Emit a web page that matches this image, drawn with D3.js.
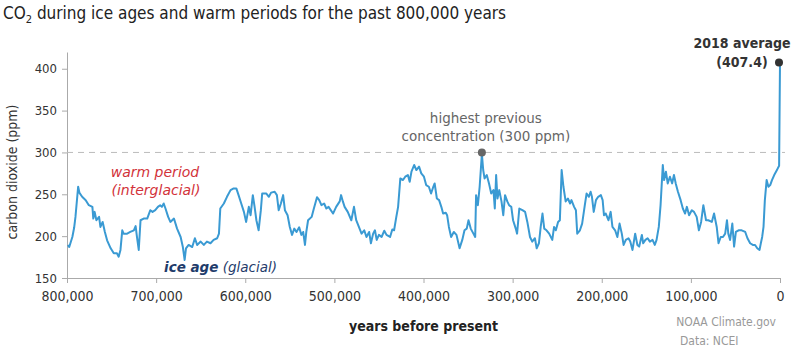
<!DOCTYPE html>
<html>
<head>
<meta charset="utf-8">
<script src="https://cdn.jsdelivr.net/npm/d3@7"></script>
<style>
  body { margin: 0; background: #fff; }
  svg text { font-family: "DejaVu Sans Condensed", "DejaVu Sans", sans-serif; }
</style>
</head>
<body>
<svg id="chart"></svg>
<script>
// thousand years before present, CO2 in ppm
const kyr = [799,797.5,794,792,790.5,787.5,786,783,779,775.5,771.5,770.5,769,767,764,762.5,760,757.5,755,751,747.5,744,742,740,738,736.5,732.5,729,725,723,721.5,719.5,717.5,714,710,706.5,704,701,698,695.5,693.5,691.5,689.5,686.5,684,680,676.5,672.5,670,668,666.5,663.5,659.5,656.5,654,650,646.5,643,639,635.5,631.5,629.5,628,624,620.5,616.5,613,610,607.5,604.5,601.5,599,596,594,591.5,589.5,587.5,585,582.5,581,576.5,573.5,571,567,564.5,562.5,560,557.5,555.5,552.5,550,547.5,545,542.5,539.5,537,535,533,531.5,529.5,525.5,523,519.5,517,514.5,511.5,509,506.5,501.5,498,494,492.5,490.5,488.5,485,481,478,475.5,472.5,469.5,466.5,464,461,459,456.5,454.5,452.5,450,447,444,441.5,437.5,435,433,430.5,428.5,426,423,420.5,417.5,415.5,413.5,410.5,408,405,402.5,399.5,397,394,391.5,389,387.5,385,382.5,380,378,375,373.5,371.5,369,366,363,359.5,356.5,354,351.5,349.5,347,344,342,341,339,337,334.5,333,331.5,329,326.5,324,321.5,320,318.5,317,315,312.5,310.5,308.5,306,304,301.5,299.5,296.5,295,292.5,289,286,283.5,280.5,278,275,273,270.5,268.5,266.5,264.5,262,259,255.5,253.5,251.5,249,247,245,243,240.5,238,235.5,234,231,229,227.5,224.5,222,219,217,214.5,212.5,211,209,206.5,204,201,199,197.5,195.5,192.5,190,188,185,182.5,180,177.5,175.5,173,170,168,165.5,162.5,160,158,155,153.5,151,148.5,146,143,140.5,138.5,136,134,131.5,130,128,126,123.5,121,119,117,114.5,111.5,109,106.5,104.5,102,99,96.5,93.5,91,88.5,86,83,80.5,76.5,74,71,69,66.5,64,61.5,59.5,58,56,53.5,51.5,49.5,46.5,43,39,36.5,33.5,30.5,28,25.5,23,21.5,20,18.5,17,15,13,11,9,6.5,4.5,2.5,1,0];
const co2 = [189.5,187,199,210,223,259,251.7,247,243,237,235,221,229,219,223,211,217,205,195,185.5,179.5,179.5,175.5,183.5,207,203,203,205,207,212,199,183.5,219,221,221,231,229,231,235,237,235,239,233,223,217,221,209,199,187,171.5,185.5,189.5,187,197.5,189.5,193.5,189.5,193.5,191.5,195.5,197.5,203,233,239,247,255,257,257,249,239,229,217,235,225,249,235,219,207,231,251,251,247,252,253,249,231,239,249,231,225,211,201.5,209,205,210.5,201.5,205,189.5,205,219,223,233,246.5,243,237,239,233,235,227,235,241.5,249,241.5,235,229,219,235,219,211,203,207,199,205,191.5,203,207,195.5,201.5,199,206.5,201.5,199,208,207,223,235,269,267,271,273,265,277,285,279,283,275,271,261,259,251,259,263,245,243,235,227,228,225,211,199,205,201.5,185.5,195.5,207,209,219,209,203,199,249,237,259,298,279,269,273,263,251,255,233,273,245,255,241.5,225,249,241.5,237,235,219,209,203,233,231,229,217,199,193.5,197.5,185.5,191.5,211,227,209,207,203,195.5,211,207,217,219,279,259,241.5,245,239,243,235,231,203,207,215,237,251,247,253,247,229,243,247,249,243,225,227,219,229,211,207,199,215,203,189.5,195.5,197.5,193.5,183.5,203,189.5,187.5,201.5,191.5,195.5,197.5,193.5,195.5,189.5,195.5,211,237,285,267,277,263,271,263,273,263,253,243,233,227,235,225,231,229,223,207,217,237,219,219,217,227,211,191.5,199,199,203,219,203,195.5,215,187.5,205,207,207,205,197.5,191.5,189.5,189.5,185.5,183.5,191.5,199,211,243,267,259,261,267,273,277,281,284,407.4];

const xTicks = [800, 700, 600, 500, 400, 300, 200, 100, 0];
const yTicks = [150, 200, 250, 300, 350, 400];
const previousHigh = { kyr: 334.5, ppm: 300 };
const latest = { kyr: 0, ppm: 407.4, label: '2018 average' };

class LineChart {
    constructor( config ) {
        this.config = {
            parent: config.parent,
            width: config.width || 800,
            height: config.height || 354,
            margin: config.margin || {top:52, right:20, bottom:76, left:67},
        }
        this.data = kyr.map( (k, i) => ({ kyr: k, ppm: co2[i] }) );
        this.init();
    }

    init() {
        let self = this;
        self.svg = d3.select( self.config.parent )
            .attr('width', self.config.width)
            .attr('height', self.config.height);
        self.chart = self.svg.append('g')
            .attr('transform', `translate(${self.config.margin.left}, ${self.config.margin.top})`);
        self.inner_width = self.config.width - self.config.margin.left - self.config.margin.right;
        self.inner_height = self.config.height - self.config.margin.top - self.config.margin.bottom;

        self.xscale = d3.scaleLinear()
            .domain( [800, 0] )
            .range( [0, self.inner_width] );
        self.yscale = d3.scaleLinear()
            .domain( [150, 420] )
            .range( [self.inner_height, 0] );

        self.xaxis = d3.axisBottom( self.xscale )
            .tickValues( xTicks )
            .tickFormat( d => d3.format(',')(d * 1000) )
            .tickSize(5)
            .tickSizeOuter(0)
            .tickPadding(8);
        self.yaxis = d3.axisLeft( self.yscale )
            .tickValues( yTicks )
            .tickSize(5)
            .tickSizeOuter(0)
            .tickPadding(5);
        self.xaxis_group = self.chart.append('g')
            .attr('transform', `translate(0, ${self.inner_height})`);
        self.yaxis_group = self.chart.append('g');

        // title with subscript 2
        const title = self.svg.append('text')
            .attr('x', 3)
            .attr('y', 19)
            .style('font-size', '17px')
            .attr('fill', '#222');
        title.append('tspan').text('CO');
        title.append('tspan').text('2').style('font-size', '11px').attr('dy', 4);
        title.append('tspan').text(' during ice ages and warm periods for the past 800,000 years').attr('dy', -4);

        self.svg.append('text')
            .style('font-size', '14px')
            .style('font-weight', 'bold')
            .attr('fill', '#222')
            .attr('x', self.config.margin.left + self.inner_width / 2)
            .attr('y', 331)
            .attr('text-anchor', 'middle')
            .text('years before present');

        self.svg.append('text')
            .style('font-size', '14px')
            .attr('fill', '#333')
            .attr('transform', `rotate(-90)`)
            .attr('y', 17)
            .attr('x', -172)
            .attr('text-anchor', 'middle')
            .text('carbon dioxide (ppm)');

        self.svg.append('text')
            .style('font-size', '12px')
            .attr('fill', '#999')
            .attr('x', 776)
            .attr('y', 326)
            .attr('text-anchor', 'end')
            .text('NOAA Climate.gov');
        self.svg.append('text')
            .style('font-size', '12px')
            .attr('fill', '#999')
            .attr('x', 680)
            .attr('y', 345)
            .text('Data: NCEI');
    }

    render() {
        let self = this;
        self.xaxis_group.call( self.xaxis );
        self.yaxis_group.call( self.yaxis );
        [self.xaxis_group, self.yaxis_group].forEach( g => {
            g.select('.domain').attr('stroke', '#aaa');
            g.selectAll('.tick line').attr('stroke', '#aaa');
            g.selectAll('.tick text')
                .attr('fill', '#333')
                .style('font-size', '14px')
                .style('font-family', '"DejaVu Sans Condensed", sans-serif');
        });
        self.yaxis_group.selectAll('.tick text').style('font-size', '13px');

        // dashed reference at the highest previous level
        self.chart.append('line')
            .attr('x1', 0)
            .attr('x2', self.inner_width + 5)
            .attr('y1', self.yscale(previousHigh.ppm))
            .attr('y2', self.yscale(previousHigh.ppm))
            .attr('stroke', '#bbb')
            .attr('stroke-width', 1)
            .attr('stroke-dasharray', '6,5');

        const line = d3.line()
            .x( d => self.xscale(d.kyr) )
            .y( d => self.yscale(d.ppm) );
        self.chart.append('path')
            .datum( self.data )
            .attr('d', line)
            .attr('fill', 'none')
            .attr('stroke', '#3a9ad3')
            .attr('stroke-width', 2)
            .attr('stroke-linejoin', 'round');

        self.chart.append('circle')
            .attr('cx', self.xscale(previousHigh.kyr))
            .attr('cy', self.yscale(previousHigh.ppm))
            .attr('r', 4)
            .attr('fill', '#666');
        self.chart.append('circle')
            .attr('cx', self.xscale(latest.kyr) - 1)
            .attr('cy', self.yscale(latest.ppm))
            .attr('r', 4)
            .attr('fill', '#333');

        // annotations
        const hx = self.xscale(previousHigh.kyr) + 4;
        self.chart.append('text')
            .attr('x', hx).attr('y', 71)
            .attr('text-anchor', 'middle')
            .attr('fill', '#666')
            .style('font-family', '"DejaVu Sans", sans-serif')
            .style('font-size', '13.5px')
            .text('highest previous');
        self.chart.append('text')
            .attr('x', hx).attr('y', 89)
            .attr('text-anchor', 'middle')
            .attr('fill', '#666')
            .style('font-family', '"DejaVu Sans", sans-serif')
            .style('font-size', '13.5px')
            .text('concentration (300 ppm)');

        self.chart.append('text')
            .attr('x', 675).attr('y', -4)
            .attr('text-anchor', 'middle')
            .attr('fill', '#333')
            .style('font-size', '14px')
            .style('font-weight', 'bold')
            .text(latest.label);
        self.chart.append('text')
            .attr('x', 675).attr('y', 15)
            .attr('text-anchor', 'middle')
            .attr('fill', '#333')
            .style('font-size', '14px')
            .style('font-weight', 'bold')
            .text(`(${latest.ppm})`);

        self.chart.append('text')
            .attr('x', 88).attr('y', 125)
            .attr('text-anchor', 'middle')
            .attr('fill', '#d2323a')
            .style('font-family', '"DejaVu Sans", sans-serif')
            .style('font-size', '14px')
            .style('font-style', 'italic')
            .text('warm period');
        self.chart.append('text')
            .attr('x', 89).attr('y', 143)
            .attr('text-anchor', 'middle')
            .attr('fill', '#d2323a')
            .style('font-family', '"DejaVu Sans", sans-serif')
            .style('font-size', '14px')
            .style('font-style', 'italic')
            .text('(interglacial)');

        const ice = self.chart.append('text')
            .attr('x', 97).attr('y', 220)
            .attr('fill', '#1f3c6b')
            .style('font-family', '"DejaVu Sans", sans-serif')
            .style('font-size', '13.5px')
            .style('font-style', 'italic');
        ice.append('tspan').style('font-weight', 'bold').text('ice age');
        ice.append('tspan').text(' (glacial)');
    }
}

const chart = new LineChart( { parent: '#chart' } );
chart.render();
</script>
</body>
</html>
